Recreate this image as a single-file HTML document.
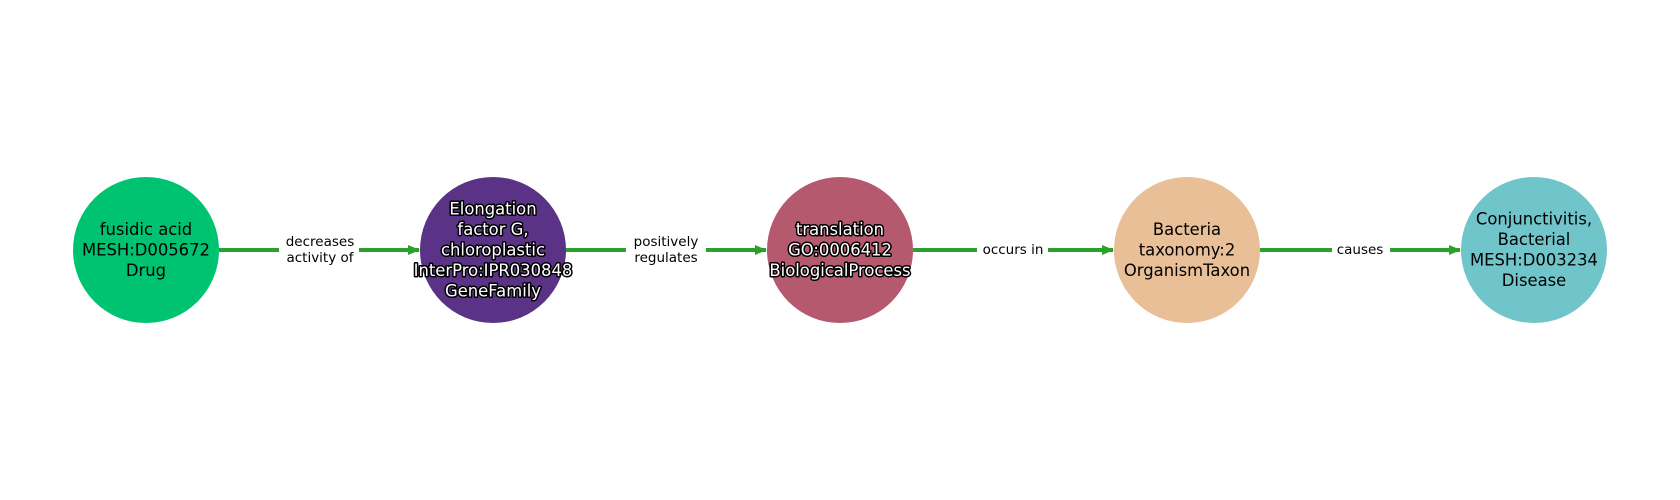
<!DOCTYPE html>
<html><head><meta charset="utf-8"><style>
html,body{margin:0;padding:0;background:#fff;}
svg{display:block;}
.n{font-family:"DejaVu Sans","Liberation Sans",sans-serif;font-size:16.4px;text-anchor:middle;dominant-baseline:central;fill:#000;}
.w{fill:#fff;stroke:#000;stroke-width:3px;paint-order:stroke;stroke-linejoin:round;}
.e{font-family:"DejaVu Sans","Liberation Sans",sans-serif;font-size:13.5px;text-anchor:middle;dominant-baseline:central;fill:#000;}
</style></head><body>
<svg width="1680" height="500" viewBox="0 0 1680 500">
<defs><marker id="a" markerWidth="12" markerHeight="10" refX="11" refY="5" orient="auto" markerUnits="userSpaceOnUse"><path d="M0,0 L12,5 L0,10 Z" fill="#2ca02c"/></marker></defs>
<g stroke="#2ca02c" stroke-width="4">
<line x1="219" y1="250" x2="419" y2="250" marker-end="url(#a)"/>
<line x1="566" y1="250" x2="766" y2="250" marker-end="url(#a)"/>
<line x1="913" y1="250" x2="1113" y2="250" marker-end="url(#a)"/>
<line x1="1260" y1="250" x2="1460" y2="250" marker-end="url(#a)"/>
</g>
<g fill="#fff">
<rect x="279" y="232" width="80" height="36"/>
<rect x="626" y="232" width="80" height="36"/>
<rect x="977" y="240" width="71" height="20"/>
<rect x="1332" y="240" width="58" height="20"/>
</g>
<text class="e" x="320" y="242">decreases</text><text class="e" x="320" y="258">activity of</text>
<text class="e" x="666" y="242">positively</text><text class="e" x="666" y="258">regulates</text>
<text class="e" x="1013" y="250">occurs in</text>
<text class="e" x="1360" y="250">causes</text>
<circle cx="146" cy="250" r="73" fill="#00c372"/>
<circle cx="493" cy="250" r="73" fill="#5a3286"/>
<circle cx="840" cy="250" r="73" fill="#b5596e"/>
<circle cx="1187" cy="250" r="73" fill="#e8bf96"/>
<circle cx="1534" cy="250" r="73" fill="#70c5cb"/>
<text class="n" x="146" y="229.5">fusidic acid</text><text class="n" x="146" y="250">MESH:D005672</text><text class="n" x="146" y="270.5">Drug</text>
<g class="n w"><text x="493" y="209">Elongation</text><text x="493" y="229.5">factor G,</text><text x="493" y="250">chloroplastic</text><text x="493" y="270.5">InterPro:IPR030848</text><text x="493" y="291">GeneFamily</text></g>
<g class="n w"><text x="840" y="229.5">translation</text><text x="840" y="250">GO:0006412</text><text x="840" y="270.5">BiologicalProcess</text></g>
<text class="n" x="1187" y="229.5">Bacteria</text><text class="n" x="1187" y="250">taxonomy:2</text><text class="n" x="1187" y="270.5">OrganismTaxon</text>
<text class="n" x="1534" y="219">Conjunctivitis,</text><text class="n" x="1534" y="239.5">Bacterial</text><text class="n" x="1534" y="260">MESH:D003234</text><text class="n" x="1534" y="280.5">Disease</text>
</svg>
</body></html>
